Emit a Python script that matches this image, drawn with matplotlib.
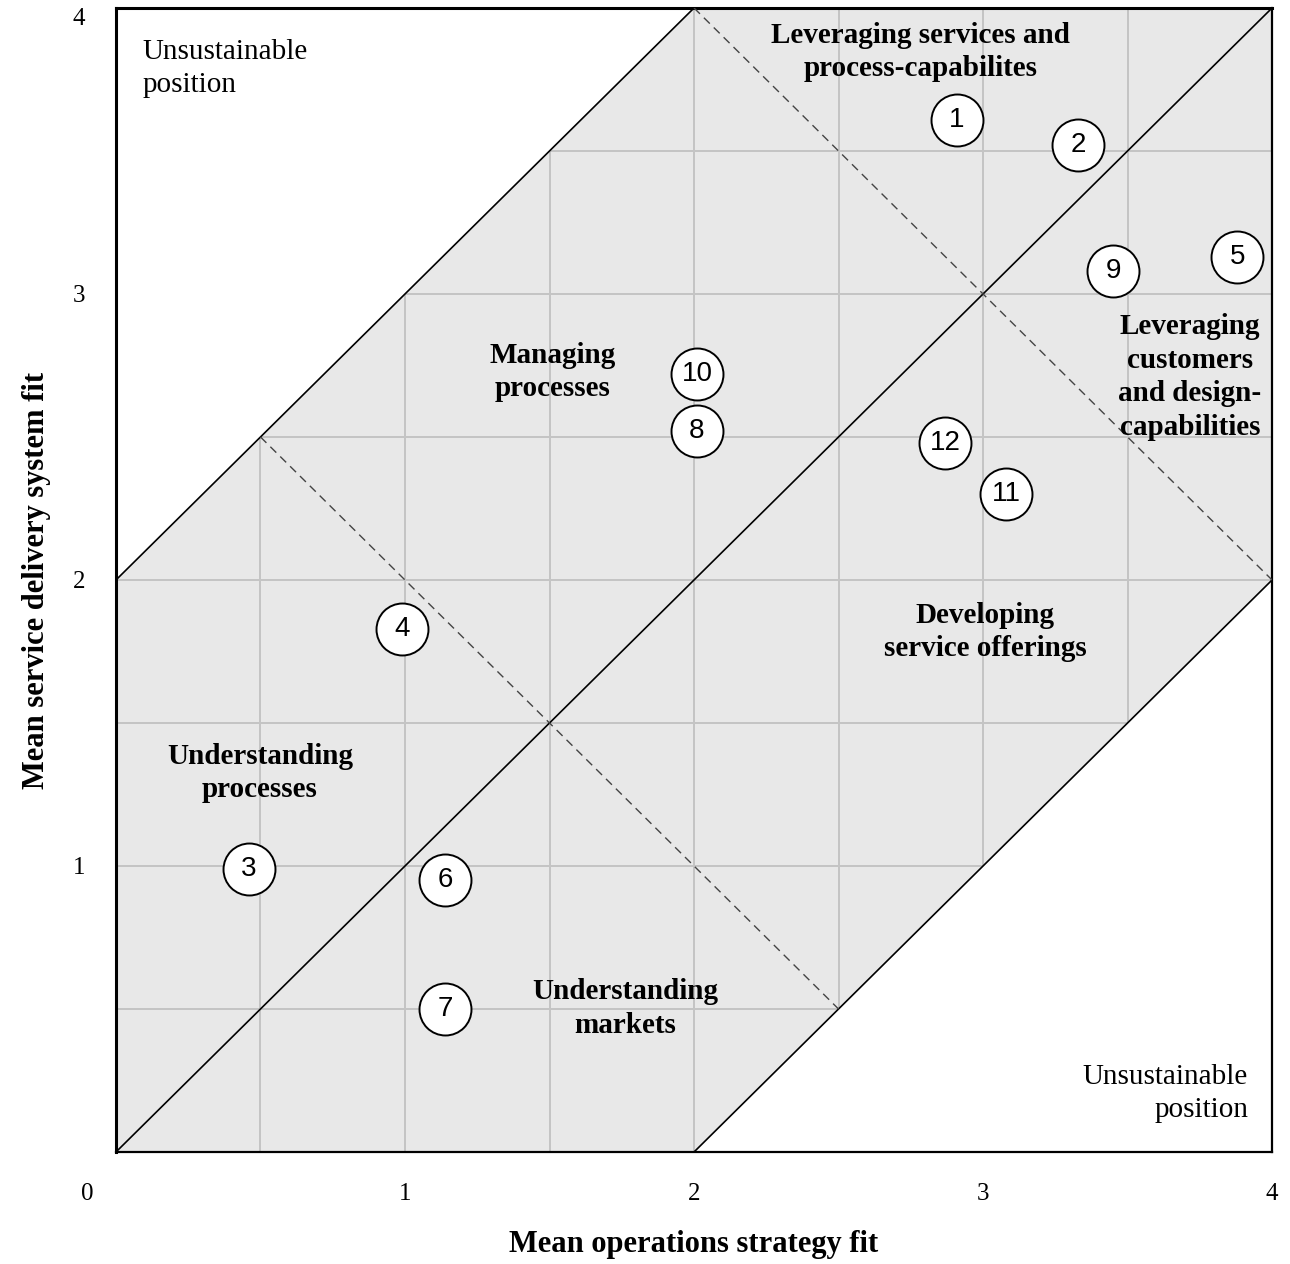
import numpy as np
import matplotlib.pyplot as plt
from matplotlib.patches import Polygon

# numbered cases: mean operations strategy fit (x), mean service delivery system fit (y)
case_ids = ["1", "2", "3", "4", "5", "6", "7", "8", "9", "10", "11", "12"]
strategy_fit = [2.91, 3.33, 0.46, 0.99, 3.88, 1.14, 1.14, 2.01, 3.45, 2.01, 3.08, 2.87]
delivery_fit = [3.61, 3.52, 0.99, 1.83, 3.13, 0.95, 0.50, 2.52, 3.08, 2.72, 2.30, 2.48]

# band of sustainable positions
band_x = [0, 0, 2, 4, 4, 2]
band_y = [0, 2, 4, 4, 2, 0]

region_labels = [
    "Leveraging services and\nprocess-capabilites",
    "Managing\nprocesses",
    "Leveraging\ncustomers\nand design-\ncapabilities",
    "Developing\nservice offerings",
    "Understanding\nprocesses",
    "Understanding\nmarkets",
]
region_x = [2.785, 1.51, 3.716, 3.007, 0.498, 1.761]
region_y = [3.846, 2.727, 2.71, 1.818, 1.325, 0.503]

ticks = [1, 2, 3, 4]

serif = "Liberation Serif"
sans = "Liberation Sans"

fig = plt.figure(figsize=(12.9, 12.64), dpi=100)
ax = fig.add_axes([0.0899, 0.0886, 0.8962, 0.9051])
ax.set_xlim(0, 4)
ax.set_ylim(0, 4)

band = Polygon(np.column_stack([band_x, band_y]), closed=True,
               facecolor="#e8e8e8", edgecolor="none", zorder=1)
ax.add_patch(band)

# grid only inside the band
for g in np.arange(0.5, 4.0, 0.5):
    lv, = ax.plot([g, g], [0, 4], color="#c4c4c4", lw=1.4, zorder=2)
    lh, = ax.plot([0, 4], [g, g], color="#c4c4c4", lw=1.4, zorder=2)
    lv.set_clip_path(band)
    lh.set_clip_path(band)

# diagonals
ax.plot([0, 2], [2, 4], color="black", lw=1.2, zorder=3)
ax.plot([0, 4], [0, 4], color="black", lw=1.2, zorder=3)
ax.plot([2, 4], [0, 2], color="black", lw=1.2, zorder=3)
ax.plot([0.5, 2.5], [2.5, 0.5], color="#444444", lw=1.0, ls=(0, (6, 4)), zorder=3)
ax.plot([2, 4], [4, 2], color="#444444", lw=1.0, ls=(0, (6, 4)), zorder=3)

ax.scatter(strategy_fit, delivery_fit, s=1400, facecolor="white",
           edgecolor="black", linewidth=1.4, zorder=5)
for cid, x, y in zip(case_ids, strategy_fit, delivery_fit):
    ax.text(x, y, cid, ha="center", va="center", fontsize=20,
            family=sans, zorder=6)

for txt, x, y in zip(region_labels, region_x, region_y):
    ax.text(x, y, txt, ha="center", va="center", fontsize=21,
            family=serif, fontweight="bold", linespacing=1.32, zorder=4)

ax.text(0.093, 3.89, "Unsustainable\nposition", ha="left", va="top",
        fontsize=21, family=serif, linespacing=1.32)
ax.text(3.917, 0.205, "Unsustainable\nposition", ha="right", va="center",
        fontsize=21, family=serif, linespacing=1.32, multialignment="right")

ax.set_xticks(ticks)
ax.set_yticks(ticks)
ax.set_xticklabels([str(t) for t in ticks], fontsize=18, family=serif)
ax.set_yticklabels([str(t) for t in ticks], fontsize=18, family=serif)
ax.tick_params(length=0, pad=22)
ax.get_yticklabels()[-1].set_va("top")
ax.text(-0.1, -0.11, "0", ha="center", va="top", fontsize=18, family=serif,
        transform=ax.transData, clip_on=False)

ax.set_xlabel("Mean operations strategy fit", fontsize=22, family=serif,
              fontweight="bold", labelpad=18)
ax.set_ylabel("Mean service delivery system fit", fontsize=22, family=serif,
              fontweight="bold", labelpad=16)

for side in ["top", "left"]:
    ax.spines[side].set_linewidth(2.2)
for side in ["bottom", "right"]:
    ax.spines[side].set_linewidth(1.6)

fig.savefig("out.png", dpi=100)
